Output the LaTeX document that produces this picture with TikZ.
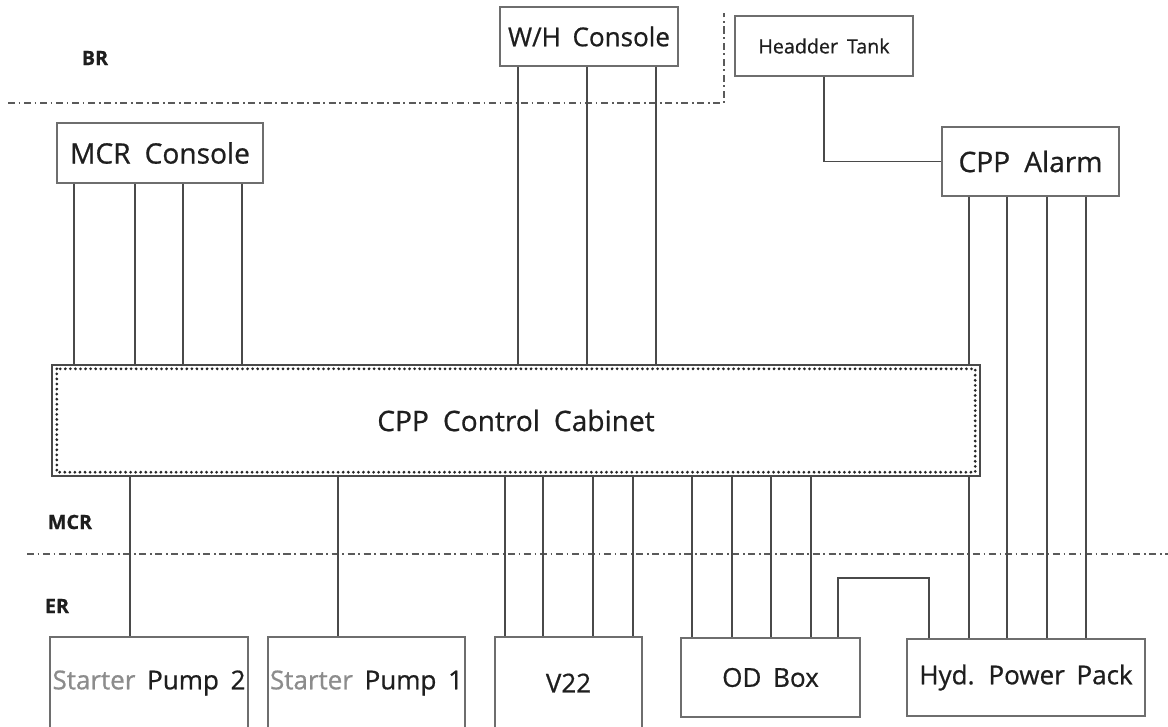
\documentclass[tikz,border=0pt]{standalone}
\usepackage{fontspec}
\setmainfont{Open Sans}[FakeBold=0.7]
\usetikzlibrary{positioning,calc}
\newlength\px \setlength\px{0.025cm}
\definecolor{dwInk}{HTML}{1E1E1E}
\definecolor{dwLine}{HTML}{4A4A4A}
\definecolor{dwZone}{HTML}{5A5A5A}
\definecolor{dwGrey}{HTML}{8C8C8C}
\newcommand\fbig{\fontsize{20}{24}\selectfont\spaceskip=.5em\relax}
\newcommand\fmid{\fontsize{18.5}{22}\selectfont\spaceskip=.45em\relax}
\newcommand\fsml{\fontsize{14}{16}\selectfont\spaceskip=.45em\relax}

\begin{document}
\begin{tikzpicture}[x=1\px, y=-1\px,
  box/.style={draw=dwLine!80, line width=0.8pt, inner sep=0pt, text=dwInk, fill=white},
  cabinet/.style={draw=dwLine, line width=1.7pt, inner sep=0pt, text=dwInk, fill=white, font=\fbig},
  wire/.style={draw=dwLine, line width=0.8pt},
  zone/.style={draw=dwZone, line width=1.1pt, dash pattern=on 5pt off 2.6pt on 1.2pt off 2.6pt},
  zonelab/.style={font=\fontsize{14}{16}\selectfont\bfseries, text=dwInk},
]
\clip (0,0) rectangle (1168,726);
% ---- zone boundaries ----
\draw[zone] (8,103) -- (724,103) -- (724,13);
\draw[zone] (27,554) -- (1168,554);
\node[zonelab] (br) at (95,58) {BR};
\node[zonelab] (mcrlab) at (70,522) {MCR};
\node[zonelab] (erlab) at (57,606) {ER};
% ---- upper units ----
\node[box, font=\fmid, minimum width=178\px, minimum height=59\px] (wh) at (589,36.5) {W/H Console};
\node[box, font=\fsml, minimum width=178\px, minimum height=60\px] (tank) at (824,46) {Headder Tank};
\node[box, font=\fbig, minimum width=206\px, minimum height=60\px] (mcrc) at (160,153) {MCR Console};
\node[box, font=\fbig, minimum width=177\px, minimum height=69\px] (alarm) at (1030.5,161.5) {CPP Alarm};
% ---- cabinet ----
\node[cabinet, minimum width=928\px, minimum height=111\px] (cab) at (516,420.5) {CPP Control Cabinet};
\draw[black!85, line width=2.2pt, line cap=round, dash pattern=on 0pt off 3.6pt]
  ([shift={(6,5)}]cab.north west) rectangle ([shift={(-6,-5)}]cab.south east);
% ---- lower units ----
\node[box, font=\fmid, minimum width=198\px, minimum height=92\px] (sp2) at (149,683) {\textcolor{dwGrey}{Starter} Pump 2};
\node[box, font=\fmid, minimum width=197\px, minimum height=92\px] (sp1) at (366.5,683) {\textcolor{dwGrey}{Starter} Pump 1};
\node[box, font=\fmid, minimum width=147\px, minimum height=92\px] (v22) at (568.5,683) {V22};
\node[box, font=\fmid, minimum width=179\px, minimum height=79\px] (od) at (770.5,677.5) {OD Box};
\node[box, font=\fmid, minimum width=238\px, minimum height=77\px] (hyd) at (1026,677.5) {Hyd. Power Pack};
% ---- connectors ----
\foreach \x in {74,135,183,242}{\coordinate (t) at (\x,0); \draw[wire] (mcrc.south -| t) -- (cab.north -| t);}
\foreach \x in {518,587,656}{\coordinate (t) at (\x,0); \draw[wire] (wh.south -| t) -- (cab.north -| t);}
\draw[wire] (tank.south) |- (alarm.west);
\coordinate (t) at (969,0);
\draw[wire] (alarm.south -| t) -- (cab.north -| t);
\draw[wire] (cab.south -| t) -- (hyd.north -| t);
\foreach \x in {1007,1047,1086}{\coordinate (t) at (\x,0); \draw[wire] (alarm.south -| t) -- (hyd.north -| t);}
\coordinate (t) at (130,0); \draw[wire] (cab.south -| t) -- (sp2.north -| t);
\coordinate (t) at (338,0); \draw[wire] (cab.south -| t) -- (sp1.north -| t);
\foreach \x in {505,543,593,633}{\coordinate (t) at (\x,0); \draw[wire] (cab.south -| t) -- (v22.north -| t);}
\foreach \x in {692,732,771,811}{\coordinate (t) at (\x,0); \draw[wire] (cab.south -| t) -- (od.north -| t);}
\coordinate (odl) at (838,578); \coordinate (odr) at (929,578);
\draw[wire] (od.north -| odl) -- (odl) -- (odr) -- (hyd.north -| odr);
\end{tikzpicture}
\end{document}
